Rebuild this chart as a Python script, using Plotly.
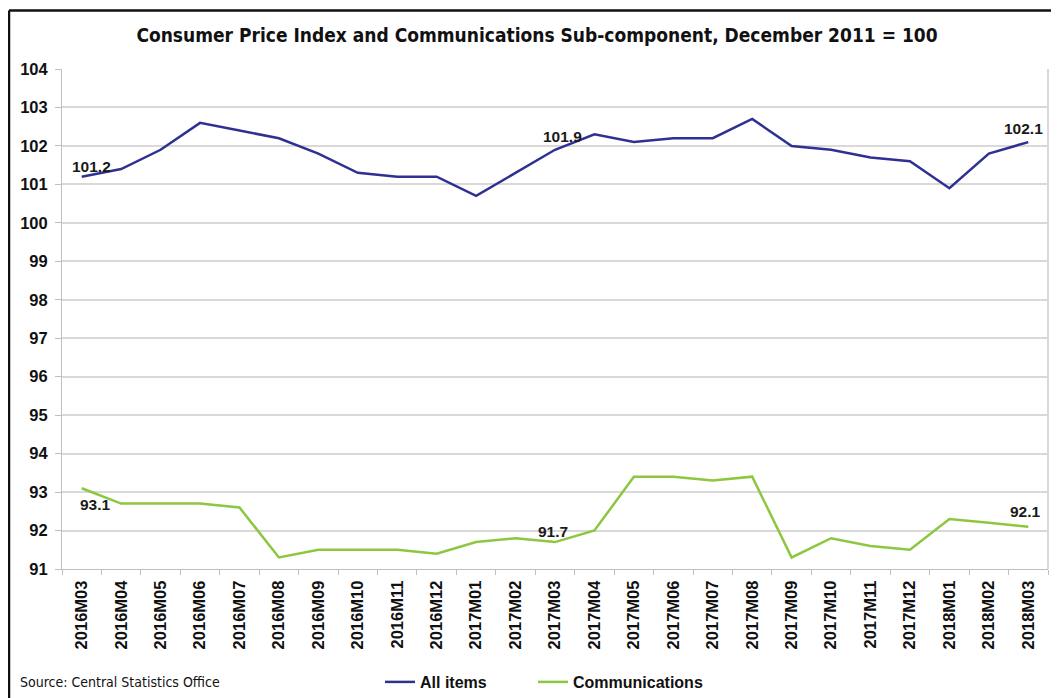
import plotly.graph_objects as go

months = ["2016M03", "2016M04", "2016M05", "2016M06", "2016M07", "2016M08", "2016M09",
          "2016M10", "2016M11", "2016M12", "2017M01", "2017M02", "2017M03", "2017M04",
          "2017M05", "2017M06", "2017M07", "2017M08", "2017M09", "2017M10", "2017M11",
          "2017M12", "2018M01", "2018M02", "2018M03"]
all_items = [101.2, 101.4, 101.9, 102.6, 102.4, 102.2, 101.8, 101.3, 101.2, 101.2, 100.7,
             101.3, 101.9, 102.3, 102.1, 102.2, 102.2, 102.7, 102.0, 101.9, 101.7, 101.6,
             100.9, 101.8, 102.1]
communications = [93.1, 92.7, 92.7, 92.7, 92.6, 91.3, 91.5, 91.5, 91.5, 91.4, 91.7, 91.8,
                  91.7, 92.0, 93.4, 93.4, 93.3, 93.4, 91.3, 91.8, 91.6, 91.5, 92.3, 92.2,
                  92.1]
y_ticks = list(range(91, 105))

# which points carry a value label, with (x shift, y shift) in px
all_labels = {0: (10, 10), 12: (7, 13), 24: (-5, 14)}
comm_labels = {0: (14, -16), 12: (-2, 11), 24: (-3, 15)}

blue = "#2E3192"
green = "#8DC63F"
ARIAL = "Liberation Sans, Arial, sans-serif"
NARROW = "Liberation Sans Narrow, Arial Narrow, DejaVu Sans Condensed, sans-serif"

fig = go.Figure()
fig.add_trace(go.Scatter(
    x=months, y=all_items, name="All items", mode="lines",
    line=dict(color=blue, width=2.5), legend="legend",
))
fig.add_trace(go.Scatter(
    x=months, y=communications, name="Communications", mode="lines",
    line=dict(color=green, width=2.5), legend="legend2",
))

annotations = []
for series, lab in ((all_items, all_labels), (communications, comm_labels)):
    for i, (dx, dy) in lab.items():
        annotations.append(dict(
            x=months[i], y=series[i], xref="x", yref="y", text=f"{series[i]:.1f}",
            showarrow=False, xshift=dx, yshift=dy, xanchor="center", yanchor="middle",
            font=dict(family=ARIAL, size=15.5, color="#1a1a1a", weight="bold"),
        ))

# page has an 8px body margin; the capture is compressed slightly in y
OFF = 8
S = 0.983
W, H = 1059 - 2 * OFF, 694
PL, PR, PT, PB = 62, 1048, 68, 568  # plot area in reference pixels


def fy(p):
    return p / S - OFF


L, R = PL - OFF, W - (PR - OFF)
T, B = fy(PT), H - fy(PB)
pw, ph = W - L - R, H - T - B


def px_x(p):
    return (p - OFF - L) / pw


def px_y(p):
    return (H - B - fy(p)) / ph


annotations.append(dict(
    text="Source: Central Statistics Office", xref="paper", yref="paper",
    x=px_x(18), y=px_y(681), xanchor="left", yanchor="middle", showarrow=False,
    font=dict(family=NARROW, size=14, color="#111111")))

legend_common = dict(
    orientation="h", yanchor="middle", y=px_y(681),
    font=dict(family=ARIAL, size=16, color="#111111", weight="bold"),
    itemwidth=30, bgcolor="rgba(0,0,0,0)", xanchor="left",
)

fig.update_layout(
    width=W, height=H,
    margin=dict(l=L, r=R, t=T, b=B, pad=0),
    paper_bgcolor="white", plot_bgcolor="white",
    title=dict(
        text="<b>Consumer Price Index and Communications Sub-component, December 2011 = 100</b>",
        x=(537 - OFF) / W, xanchor="center", y=1 - fy(35) / H, yanchor="middle",
        font=dict(family=NARROW, size=19, color="#111111"),
    ),
    showlegend=True,
    legend=dict(x=px_x(380), **legend_common),
    legend2=dict(x=px_x(533), **legend_common),
    xaxis=dict(
        type="category", range=[-0.5, len(months) - 0.5],
        tickmode="array", tickvals=months, ticktext=months,
        tickangle=-90, ticks="outside", ticklen=5, tickcolor="#BFBFBF",
        tickson="boundaries", ticklabelstandoff=4,
        showline=True, linecolor="#BFBFBF", linewidth=1, mirror=False,
        showgrid=False,
        tickfont=dict(family=ARIAL, size=16.5, color="#111111", weight="bold"),
    ),
    yaxis=dict(
        range=[91, 104], tickmode="array", tickvals=y_ticks,
        ticks="outside", ticklen=6, tickcolor="#BFBFBF", ticklabelstandoff=4,
        showline=True, linecolor="#BFBFBF", linewidth=1,
        showgrid=True, gridcolor="#D9D9D9", gridwidth=1.5,
        zeroline=False,
        tickfont=dict(family=ARIAL, size=16.5, color="#111111", weight="bold"),
    ),
    shapes=[
        # plot-area right border
        dict(type="line", xref="paper", yref="paper", x0=1, x1=1, y0=0, y1=1,
             line=dict(color="#D9D9D9", width=2)),
        # outer frame (top and left)
        dict(type="line", xref="paper", yref="paper", x0=px_x(9), x1=px_x(1070), y0=px_y(9.5), y1=px_y(9.5),
             line=dict(color="#111111", width=2.5)),
        dict(type="line", xref="paper", yref="paper", x0=px_x(9), x1=px_x(9), y0=px_y(9.5), y1=px_y(720),
             line=dict(color="#111111", width=2.5)),
    ],
    annotations=annotations,
)

fig.write_html("out.html")
